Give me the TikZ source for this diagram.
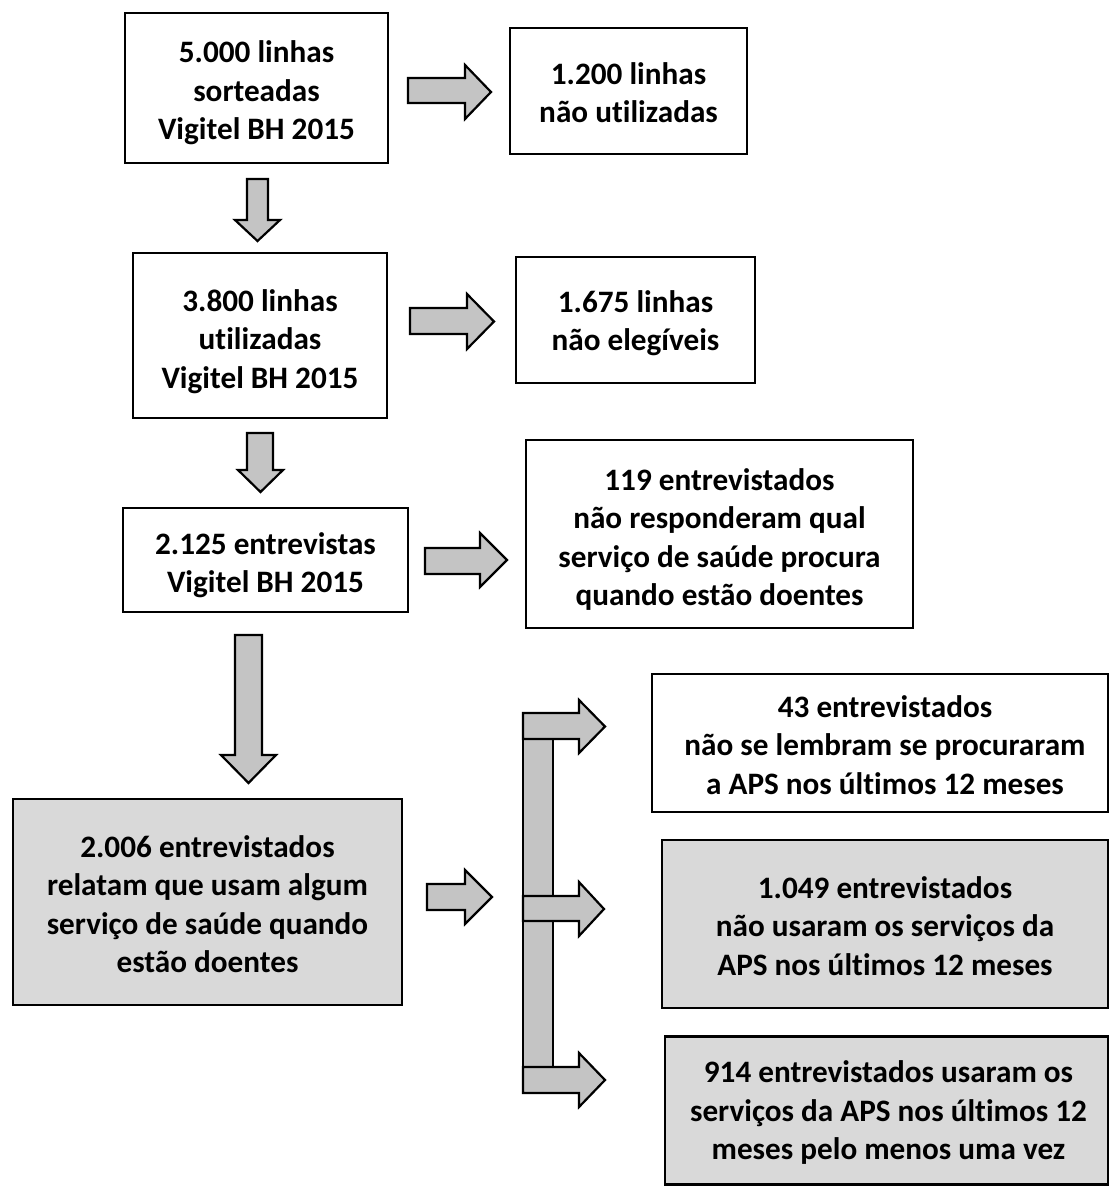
\documentclass[tikz,border=0pt]{standalone}
\usepackage{fontspec}
\setmainfont{Carlito}[Ligatures=NoCommon]
\definecolor{boxgray}{HTML}{D9D9D9}
\definecolor{arrgray}{HTML}{C4C4C4}
\begin{document}
\begin{tikzpicture}[x=1pt,y=-1pt,
  box/.style={draw=black, line width=2.6pt, inner sep=0pt},
  gbox/.style={box, fill=boxgray},
  txt/.style={inner sep=0pt, align=center,
    font=\bfseries\fontsize{31.2}{38.5}\selectfont},
  blk/.style={draw=black, line width=2.2pt, fill=arrgray, line join=miter}]
\useasboundingbox (0,0) rectangle (1110,1186);
% boxes
\node[box, minimum width=263, minimum height=150] (a) at (256.5,88) {};
\node[txt] (ta) at ([yshift=-5pt]a.center) {5.000 linhas\\sorteadas\\Vigitel BH 2015};
\node[box, minimum width=237, minimum height=126] (b) at (628.5,91) {};
\node[txt] (tb) at ([yshift=-1.5pt]b.center) {1.200 linhas\\não utilizadas};
\node[box, minimum width=254, minimum height=165] (c) at (260,335.5) {};
\node[txt] (tc) at ([yshift=-6pt]c.center) {3.800 linhas\\utilizadas\\Vigitel BH 2015};
\node[box, minimum width=239, minimum height=126] (d) at (635.5,320) {};
\node[txt] (td) at ([yshift=-3pt]d.center) {1.675 linhas\\não elegíveis};
\node[box, minimum width=285, minimum height=104] (e) at (265.5,560) {};
\node[txt] (te) at ([yshift=-5pt]e.center) {2.125 entrevistas\\Vigitel BH 2015};
\node[box, minimum width=387, minimum height=188] (f) at (719.5,534) {};
\node[txt] (tf) at ([yshift=-5.5pt]f.center) {119 entrevistados\\não responderam qual\\serviço de saúde procura\\quando estão doentes};
\node[gbox, minimum width=389, minimum height=206] (g) at (207.5,902) {};
\node[txt] (tg) at ([yshift=-2pt]g.center) {2.006 entrevistados\\relatam que usam algum\\serviço de saúde quando\\estão doentes};
\node[box, minimum width=456, minimum height=138] (h) at (880,743) {};
\node[txt] (th) at ([xshift=5pt,yshift=-2pt]h.center) {43 entrevistados\\não se lembram se procuraram\\a APS nos últimos 12 meses};
\node[gbox, minimum width=446, minimum height=168] (i) at (885,924) {};
\node[txt] (ti) at ([yshift=-2pt]i.center) {1.049 entrevistados\\não usaram os serviços da\\APS nos últimos 12 meses};
\node[gbox, minimum width=443, minimum height=148] (j) at (886.5,1110.5) {};
\node[txt] (tj) at ([xshift=2pt,yshift=-2pt]j.center) {914 entrevistados usaram os\\serviços da APS nos últimos 12\\meses pelo menos uma vez};
% right block arrows
\draw[blk] (408,78) -- (465,78) -- (465,65) -- (491,92) -- (465,119) -- (465,103) -- (408,103) -- cycle;
\draw[blk] (410,308) -- (467,308) -- (467,294) -- (494,321.5) -- (467,349) -- (467,334) -- (410,334) -- cycle;
\draw[blk] (425,548) -- (480,548) -- (480,533) -- (507,560) -- (480,587) -- (480,574) -- (425,574) -- cycle;
\draw[blk] (427,884) -- (465,884) -- (465,870) -- (492,897) -- (465,924) -- (465,910) -- (427,910) -- cycle;
% down block arrows
\draw[blk] (247,179) -- (247,220) -- (235,220) -- (257.5,241) -- (280,220) -- (268,220) -- (268,179) -- cycle;
\draw[blk] (247,433) -- (247,470) -- (238,470) -- (260.5,492) -- (283,470) -- (273,470) -- (273,433) -- cycle;
\draw[blk] (235,635) -- (235,755) -- (221,755) -- (248.5,783) -- (276,755) -- (262,755) -- (262,635) -- cycle;
% bracket
\draw[blk] (523,713) rectangle (553,1093);
\draw[blk] (523,713) -- (579,713) -- (579,700) -- (605,726.5) -- (579,753) -- (579,739) -- (523,739) -- cycle;
\draw[blk] (523,896) -- (579,896) -- (579,882) -- (604,909) -- (579,936) -- (579,921) -- (523,921) -- cycle;
\draw[blk] (523,1067) -- (579,1067) -- (579,1053) -- (605,1080) -- (579,1107) -- (579,1093) -- (523,1093) -- cycle;
\end{tikzpicture}
\end{document}
